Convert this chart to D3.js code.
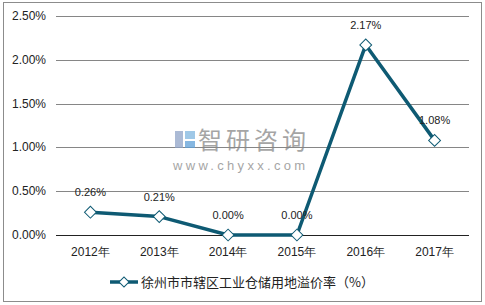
<!DOCTYPE html>
<html>
<head>
<meta charset="utf-8">
<script src="https://cdn.jsdelivr.net/npm/d3@7"></script>
<style>
  body { margin: 0; background: #fff; }
  svg { display: block; font-family: "Liberation Sans", Arial, sans-serif; }
</style>
</head>
<body>
<svg width="485" height="305"></svg>
<script>
// Data
const years = ['2012年', '2013年', '2014年', '2015年', '2016年', '2017年'];
const rates = [0.26, 0.21, 0.00, 0.00, 2.17, 1.08];
const yTicks = [0, 0.5, 1.0, 1.5, 2.0, 2.5];
const seriesName = '徐州市市辖区工业仓储用地溢价率（%）';

const svg = d3.select('svg');
const lineColor = '#0e5a73';

// Outer frame
svg.append('rect')
    .attr('x', 3.5).attr('y', 2.5)
    .attr('width', 478).attr('height', 299)
    .attr('fill', 'none')
    .attr('stroke', '#8c8c8c');

// Scales
const x = d3.scaleBand().domain(years).range([56, 469]);
const y = d3.scaleLinear().domain([0, 2.5]).range([235, 16]);

// Gridlines
svg.append('g')
    .selectAll('line')
    .data(yTicks)
    .join('line')
    .attr('x1', 56).attr('x2', 469)
    .attr('y1', d => Math.round(y(d)) + 0.5)
    .attr('y2', d => Math.round(y(d)) + 0.5)
    .attr('stroke', d => d === 0 ? '#222' : '#868686')
    .attr('stroke-width', 1);

// Y labels
svg.append('g')
    .selectAll('text')
    .data(yTicks)
    .join('text')
    .attr('x', 46)
    .attr('y', d => y(d) + 4)
    .attr('text-anchor', 'end')
    .attr('font-size', 12)
    .attr('fill', '#222')
    .text(d => d.toFixed(2) + '%');

// X labels
svg.append('g')
    .selectAll('text')
    .data(years)
    .join('text')
    .attr('x', d => x(d) + x.bandwidth() / 2)
    .attr('y', 256)
    .attr('text-anchor', 'middle')
    .attr('font-size', 12)
    .attr('fill', '#222')
    .text(d => d);

// Watermark
const wm = svg.append('g').attr('opacity', 0.75);
wm.append('rect').attr('x', 175).attr('y', 131).attr('width', 8).attr('height', 17).attr('fill', '#8fa3c7');
wm.append('rect').attr('x', 185).attr('y', 131).attr('width', 10).attr('height', 8).attr('fill', '#7fb6e0');
wm.append('rect').attr('x', 185).attr('y', 141).attr('width', 10).attr('height', 7).attr('fill', '#5ea0d8');
wm.append('text')
    .attr('x', 198).attr('y', 149)
    .attr('font-size', 24)
    .attr('font-family', '"Noto Sans CJK SC", sans-serif')
    .attr('fill', '#888')
    .attr('letter-spacing', 4)
    .text('智研咨询');
wm.append('text')
    .attr('x', 173).attr('y', 170)
    .attr('font-size', 13)
    .attr('fill', '#888')
    .attr('letter-spacing', 3.3)
    .text('www.chyxx.com');

// Line
const cx = (d, i) => x(years[i]) + x.bandwidth() / 2;
const line = d3.line()
    .x((d, i) => cx(d, i))
    .y(d => y(d));

svg.append('path')
    .datum(rates)
    .attr('d', line)
    .attr('fill', 'none')
    .attr('stroke', lineColor)
    .attr('stroke-width', 3.5)
    .attr('stroke-linejoin', 'round');

// Markers
svg.append('g')
    .selectAll('path')
    .data(rates)
    .join('path')
    .attr('transform', (d, i) => `translate(${cx(d, i)},${y(d)}) rotate(45)`)
    .attr('d', d3.symbol().type(d3.symbolSquare).size(70))
    .attr('fill', '#fff')
    .attr('stroke', lineColor)
    .attr('stroke-width', 1);

// Data labels
svg.append('g')
    .selectAll('text')
    .data(rates)
    .join('text')
    .attr('x', (d, i) => cx(d, i))
    .attr('y', d => y(d) - 16)
    .attr('text-anchor', 'middle')
    .attr('font-size', 11)
    .attr('fill', '#222')
    .text(d => d.toFixed(2) + '%');

// Legend
const legend = svg.append('g');
legend.append('line')
    .attr('x1', 110).attr('x2', 138)
    .attr('y1', 282).attr('y2', 282)
    .attr('stroke', lineColor)
    .attr('stroke-width', 3.5);
legend.append('path')
    .attr('transform', 'translate(124,282) rotate(45)')
    .attr('d', d3.symbol().type(d3.symbolSquare).size(50))
    .attr('fill', '#fff')
    .attr('stroke', lineColor);
legend.append('text')
    .attr('x', 141).attr('y', 287)
    .attr('font-size', 13)
    .attr('font-family', '"Noto Sans CJK SC", sans-serif')
    .attr('fill', '#222')
    .text(seriesName);
</script>
</body>
</html>
